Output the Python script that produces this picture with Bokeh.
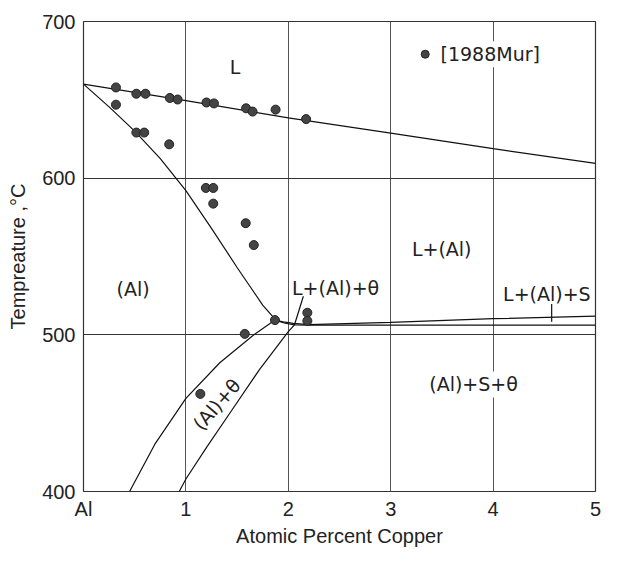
from bokeh.plotting import figure
from bokeh.models import FixedTicker, Range1d
from bokeh.core.properties import value
from bokeh.embed import file_html
from bokeh.resources import INLINE

# ---- data (atomic percent Cu, temperature in C) ----
liq_x = [0, 1, 2, 3, 4, 5]
liq_t = [660, 649.5, 638.5, 628.8, 618.8, 609.4]

sol_x = [0, 0.25, 0.5, 0.75, 1.0, 1.25, 1.5, 1.75, 1.87]
sol_t = [660, 645.5, 630, 612.5, 592, 568, 543, 519, 510]

solv1_x = [0.45, 0.697, 1.0, 1.331, 1.664, 1.87]
solv1_t = [400, 430.2, 459.4, 482.2, 500, 509.4]

solv2_x = [0.935, 1.0, 1.2, 1.45, 1.72, 2.0, 2.06]
solv2_t = [400, 408, 428, 452, 478, 502, 506.3]

upper_x = [1.87, 1.95, 2.05, 2.2, 3, 4, 5]
upper_t = [509.4, 508.3, 507.3, 506.5, 508, 510.3, 511.9]

lower_x = [1.87, 1.97, 2.06, 2.2, 5]
lower_t = [509.4, 507.4, 506.3, 506.2, 506.2]

mur_x = [0.317, 0.317, 0.516, 0.605, 0.843, 0.919, 0.516, 0.593, 0.837,
         1.201, 1.274, 1.588, 1.651, 1.876, 2.174, 1.195, 1.267, 1.267,
         1.584, 1.663, 1.87, 1.575, 2.186, 2.186, 1.141]
mur_t = [657.9, 646.9, 653.9, 653.9, 651.2, 650.2, 629.1, 629.1, 621.6,
         648.3, 647.7, 644.6, 642.5, 643.75, 637.7, 593.75, 593.75, 583.75,
         571.25, 557.3, 509.4, 500.6, 514.1, 508.9, 462.3]

legend_x = [3.337]
legend_t = [679.1]
legend_label = ["[1988Mur]"]

x_ticks = [0, 1, 2, 3, 4, 5]
x_tick_labels = ["Al", "1", "2", "3", "4", "5"]
y_ticks = [400, 500, 600, 700]

region_labels = ["L", "L+(Al)", "L+(Al)+\u03b8", "L+(Al)+S", "(Al)+S+\u03b8", "(Al)"]
region_x = [1.48, 3.498, 2.462, 4.525, 3.809, 0.485]
region_t = [670.8, 554.5, 529.6, 526.0, 468.3, 529.1]

rot_label = ["(Al)+\u03b8"]
rot_x = [1.30]
rot_t = [455.6]

lead1_x = [2.147, 2.06]
lead1_t = [524.6, 506.3]
lead2_x = [4.572, 4.572]
lead2_t = [519.75, 508.3]

# ---- figure ----
p = figure(width=603, height=549, output_backend="svg", toolbar_location=None,
           x_range=Range1d(0, 5), y_range=Range1d(400, 700),
           min_border_left=83, min_border_right=8, min_border_top=21,
           min_border_bottom=0)
p.background_fill_color = "white"
p.border_fill_color = "white"
p.outline_line_color = "#333333"
p.outline_line_width = 1.2

TXT = "#222222"
AXF = "Liberation Sans"
INF = "DejaVu Sans"

p.xaxis.ticker = FixedTicker(ticks=x_ticks)
p.xaxis.major_label_overrides = {t: l for t, l in zip(x_ticks, x_tick_labels)}
p.yaxis.ticker = FixedTicker(ticks=y_ticks)
for ax in (p.xaxis, p.yaxis):
    ax.axis_line_color = None
    ax.major_tick_line_color = None
    ax.minor_tick_line_color = None
    ax.major_tick_out = 0
    ax.major_tick_in = 0
    ax.minor_tick_out = 0
    ax.major_label_text_font = AXF
    ax.major_label_text_font_size = "20px"
    ax.major_label_text_color = TXT
    ax.axis_label_text_font = AXF
    ax.axis_label_text_font_size = "20px"
    ax.axis_label_text_font_style = "normal"
    ax.axis_label_text_color = TXT
p.xaxis.axis_label = "Atomic Percent Copper"
p.yaxis.axis_label = "Tempreature ,\u00b0C"
p.xaxis.major_label_standoff = 6
p.xaxis.axis_label_standoff = 2
p.yaxis.major_label_standoff = 8
p.yaxis.axis_label_standoff = 10

p.xgrid.ticker = FixedTicker(ticks=[1, 2, 3, 4])
p.ygrid.ticker = FixedTicker(ticks=[500, 600])
p.xgrid.grid_line_color = "#555555"
p.ygrid.grid_line_color = "#333333"
p.xgrid.grid_line_width = 1
p.ygrid.grid_line_width = 1

# ---- labels (white background hides grid lines behind them) ----
p.text(x=region_x, y=region_t, text=region_labels, text_font=value(INF),
       text_font_size="19px", text_color=TXT, text_align="center",
       text_baseline="middle", background_fill_color="white", padding=2)
p.text(x=[legend_x[0] + 0.13], y=legend_t, text=legend_label, text_font=value(INF),
       text_font_size="19px", text_color=TXT, text_align="left",
       text_baseline="middle", background_fill_color="white", padding=2)
p.text(x=rot_x, y=rot_t, text=rot_label, text_font=value(INF),
       text_font_size="19px", text_color=TXT, text_align="center",
       text_baseline="middle", angle=49, angle_units="deg")

# ---- phase boundaries ----
LC = "#111111"
LW = 1.2
for xs, ts in [(liq_x, liq_t), (sol_x, sol_t), (solv1_x, solv1_t),
               (solv2_x, solv2_t), (upper_x, upper_t), (lower_x, lower_t),
               (lead1_x, lead1_t), (lead2_x, lead2_t)]:
    p.line(xs, ts, line_color=LC, line_width=LW)

# ---- measurements ----
p.scatter(mur_x, mur_t, size=9, fill_color="#444444", line_color="#222222", line_width=1)
p.scatter(legend_x, legend_t, size=8, fill_color="#444444", line_color="#222222", line_width=1)

open("out.html", "w").write(file_html(p, INLINE))
